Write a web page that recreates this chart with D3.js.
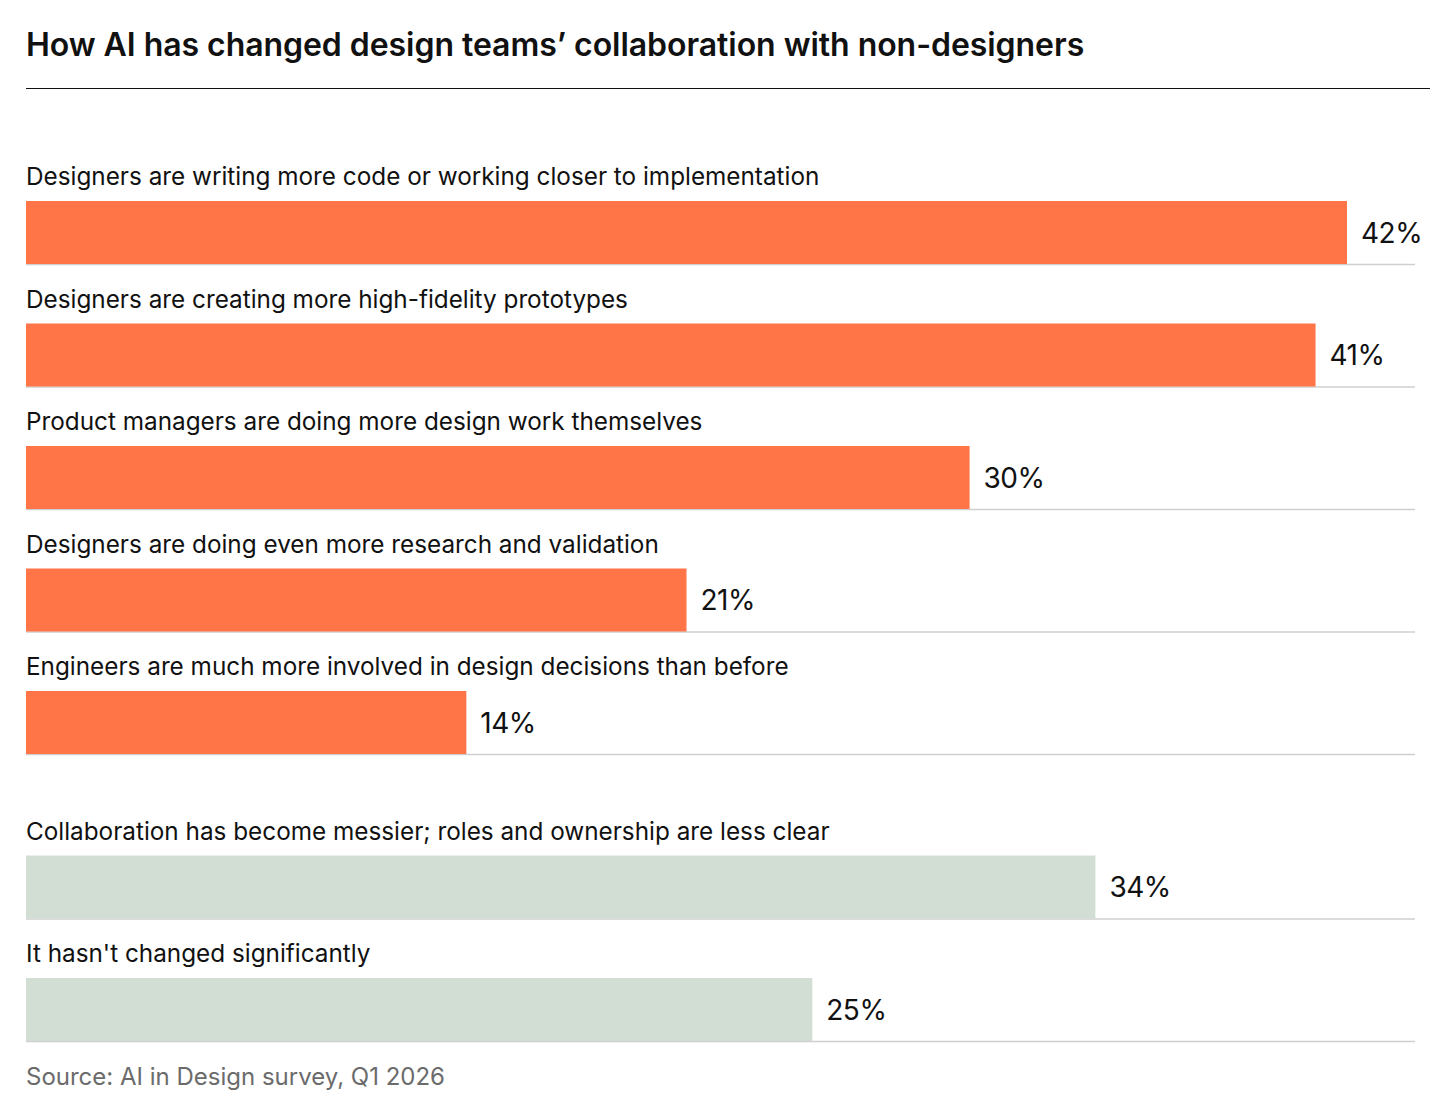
<!DOCTYPE html>
<html lang="en">
  <head>
    <meta charset="UTF-8" />
    <title>How AI has changed design teams' collaboration</title>
    <style>
      body { margin: 0; background: #fff; }
      text { font-family: Inter, 'Noto Sans', sans-serif; }
      .title { font-size: 32px; font-weight: 600; letter-spacing: -0.05px; fill: #111; }
      .cat { font-size: 24.3px; fill: #111; }
      .val { font-size: 28px; fill: #111; letter-spacing: -0.5px; }
      .source { font-size: 24px; fill: #6b6b6b; }
    </style>
    <script src="https://cdn.jsdelivr.net/npm/d3@7"></script>
  </head>
  <body>
    <svg width="1456" height="1110"></svg>
    <script>
      var categories = [
        'Designers are writing more code or working closer to implementation',
        'Designers are creating more high-fidelity prototypes',
        'Product managers are doing more design work themselves',
        'Designers are doing even more research and validation',
        'Engineers are much more involved in design decisions than before',
        'Collaboration has become messier; roles and ownership are less clear',
        "It hasn't changed significantly"
      ]
      var values = [42, 41, 30, 21, 14, 34, 25]
      var groups = ['pos', 'pos', 'pos', 'pos', 'pos', 'other', 'other']

      var svg = d3.select('svg')

      var x = d3.scaleLinear().domain([0, 42]).range([26, 1347])
      var color = d3.scaleOrdinal().domain(['pos', 'other']).range(['#ff7548', '#d2ded4'])

      // rows: each row has a label line and a bar; extra gap before second group
      var rowStep = 122.5
      var barH = 63
      function barTop(i) {
        return 201 + i * rowStep + (i >= 5 ? 42 : 0)
      }

      svg.append('text')
        .attr('class', 'title')
        .attr('x', 26)
        .attr('y', 56)
        .text('How AI has changed design teams\u2019 collaboration with non-designers')

      svg.append('line')
        .attr('x1', 26).attr('x2', 1430)
        .attr('y1', 88.5).attr('y2', 88.5)
        .attr('stroke', '#111').attr('stroke-width', 1.2)

      var rows = svg.selectAll('g.row')
        .data(categories)
        .enter()
        .append('g')
        .attr('class', 'row')
        .attr('transform', function(d, i) { return 'translate(0,' + barTop(i) + ')' })

      rows.append('line')
        .attr('x1', x(0)).attr('x2', 1415)
        .attr('y1', barH + 0.5).attr('y2', barH + 0.5)
        .attr('stroke', '#cfcfcf').attr('stroke-width', 1.5)

      rows.append('rect')
        .attr('x', x(0))
        .attr('y', 0)
        .attr('width', function(d, i) { return x(values[i]) - x(0) })
        .attr('height', barH)
        .attr('fill', function(d, i) { return color(groups[i]) })

      rows.append('text')
        .attr('class', 'cat')
        .attr('x', 26)
        .attr('y', -16)
        .text(function(d) { return d })

      rows.append('text')
        .attr('class', 'val')
        .attr('x', function(d, i) { return x(values[i]) + 14 })
        .attr('y', barH / 2)
        .attr('dy', '0.36em')
        .text(function(d, i) { return values[i] + '%' })

      svg.append('text')
        .attr('class', 'source')
        .attr('x', 26)
        .attr('y', 1085)
        .text('Source: AI in Design survey, Q1 2026')
    </script>
  </body>
</html>
